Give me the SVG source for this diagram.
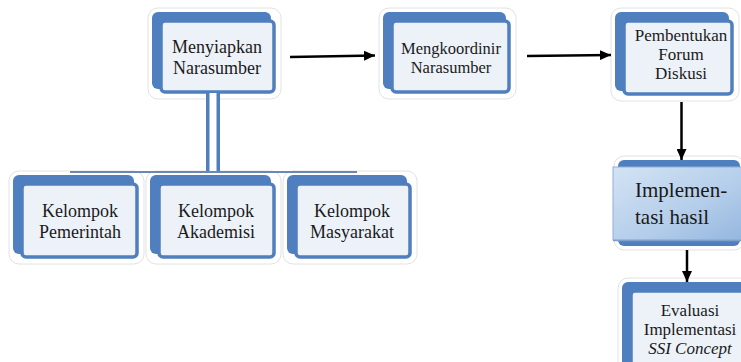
<svg xmlns="http://www.w3.org/2000/svg" width="741" height="362" viewBox="0 0 741 362">
<defs>
<style>
.bg{fill:none;stroke:#e2e2e2;stroke-width:1}
.frame{fill:#4f7fbe}
.panel{fill:#edf2f9;stroke:#4f7fbe;stroke-width:3.5}
.t{font-family:"Liberation Serif","Times New Roman",serif;fill:#1a1a1a;text-anchor:middle}
.arr{stroke:#000;stroke-width:2.5;fill:none;marker-end:url(#ah)}
</style>
<marker id="ah" markerUnits="userSpaceOnUse" markerWidth="11" markerHeight="10" refX="11" refY="5" orient="auto">
<path d="M0,0 L11,5 L0,10 z" fill="#000"/>
</marker>
<linearGradient id="ig" x1="0" y1="0" x2="1" y2="1">
<stop offset="0" stop-color="#d3e3f4"/>
<stop offset="0.6" stop-color="#b3cdea"/>
<stop offset="1" stop-color="#94b6df"/>
</linearGradient>
</defs>
<rect width="741" height="362" fill="#ffffff"/>

<g id="menyiapkan">
<rect class="bg" x="148" y="8" width="133" height="91" rx="10"/>
<rect class="frame" x="152" y="12" width="119" height="77" rx="6"/>
<rect class="panel" x="161" y="21" width="113" height="71" rx="4"/>
<text class="t" font-size="18" x="217" y="53">Menyiapkan</text>
<text class="t" font-size="18" x="217" y="74">Narasumber</text>
</g>

<g id="mengkoordinir">
<rect class="bg" x="379" y="8" width="137" height="91" rx="10"/>
<rect class="frame" x="383" y="12" width="123" height="77" rx="6"/>
<rect class="panel" x="392" y="21" width="117" height="71" rx="4"/>
<text class="t" font-size="16.5" x="451" y="54">Mengkoordinir</text>
<text class="t" font-size="16.5" x="451" y="73">Narasumber</text>
</g>

<g id="pembentukan">
<rect class="bg" x="611" y="8" width="128" height="93" rx="10"/>
<rect class="frame" x="615" y="12" width="114" height="79" rx="6"/>
<rect class="panel" x="624" y="21" width="108" height="73" rx="4"/>
<text class="t" font-size="17" x="681" y="41">Pembentukan</text>
<text class="t" font-size="17" x="681" y="60">Forum</text>
<text class="t" font-size="17" x="681" y="79">Diskusi</text>
</g>

<g id="kelompok-pemerintah">
<rect class="bg" x="9" y="171" width="135" height="93" rx="10"/>
<rect class="frame" x="13" y="175" width="121" height="79" rx="6"/>
<rect class="panel" x="22" y="184" width="115" height="73" rx="4"/>
<text class="t" font-size="18" x="80" y="217">Kelompok</text>
<text class="t" font-size="18" x="80" y="238">Pemerintah</text>
</g>

<g id="kelompok-akademisi">
<rect class="bg" x="146" y="171" width="135" height="93" rx="10"/>
<rect class="frame" x="150" y="175" width="121" height="79" rx="6"/>
<rect class="panel" x="159" y="184" width="115" height="73" rx="4"/>
<text class="t" font-size="18" x="216" y="217">Kelompok</text>
<text class="t" font-size="18" x="216" y="238">Akademisi</text>
</g>

<g id="kelompok-masyarakat">
<rect class="bg" x="283" y="171" width="134" height="93" rx="10"/>
<rect class="frame" x="287" y="175" width="120" height="79" rx="6"/>
<rect class="panel" x="296" y="184" width="114" height="73" rx="4"/>
<text class="t" font-size="18" x="352" y="217">Kelompok</text>
<text class="t" font-size="18" x="352" y="238">Masyarakat</text>
</g>

<g id="implementasi">
<rect class="bg" x="614" y="156" width="130" height="94" rx="10"/>
<rect class="frame" x="618" y="160" width="122" height="86" rx="6"/>
<rect x="613" y="167" width="130" height="73" fill="url(#ig)" stroke="#8fb0d8" stroke-width="1"/>
<line x1="613" y1="240.5" x2="741" y2="240.5" stroke="#7f9fc8" stroke-width="1.5"/>
<text font-family="'Liberation Serif','Times New Roman',serif" font-size="21" fill="#1a1a1a" x="635" y="197">Implemen-</text>
<text font-family="'Liberation Serif','Times New Roman',serif" font-size="21" fill="#1a1a1a" x="635" y="224">tasi hasil</text>
</g>

<g id="evaluasi">
<rect class="bg" x="618" y="278" width="140" height="100" rx="10"/>
<rect class="frame" x="622" y="282" width="130" height="90" rx="6"/>
<rect class="panel" x="631" y="291" width="124" height="84" rx="4"/>
<text class="t" font-size="17" x="690" y="316">Evaluasi</text>
<text class="t" font-size="17" x="690" y="335">Implementasi</text>
<text class="t" font-size="17" x="690" y="354" font-style="italic">SSI Concept</text>
</g>

<g id="connectors">
<rect x="206" y="93" width="14" height="80" fill="#4f7fbe"/>
<rect x="209.5" y="93" width="7" height="80" fill="#ffffff"/>
<line x1="70" y1="172" x2="357" y2="172" stroke="#6a88b3" stroke-width="2"/>
<line class="arr" x1="290" y1="57" x2="375" y2="55.5"/>
<line class="arr" x1="527" y1="56" x2="611" y2="55"/>
<line class="arr" x1="681.5" y1="102" x2="681.5" y2="160"/>
<line class="arr" x1="687" y1="250" x2="687" y2="282"/>
</g>
</svg>
